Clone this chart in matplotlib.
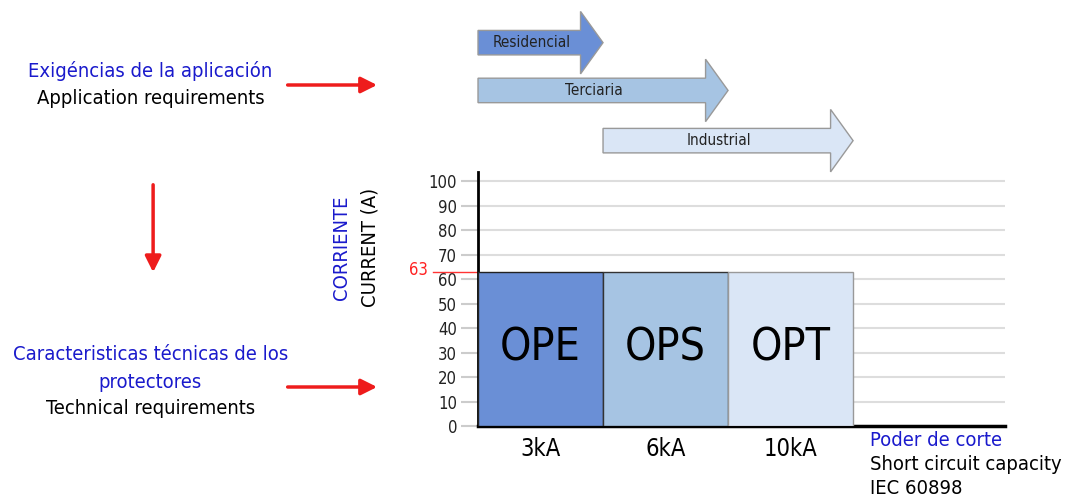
import matplotlib
matplotlib.use('Agg')
import matplotlib.pyplot as plt
from matplotlib.patches import FancyArrow, FancyArrowPatch

# data
protectores = ['OPE', 'OPS', 'OPT']
corriente = [63, 63, 63]
poder_corte = ['3kA', '6kA', '10kA']
bar_colors = ['#6a8fd6', '#a6c4e3', '#dae6f6']

aplicaciones = ['Residencial', 'Terciaria', 'Industrial']
app_start = [0, 0, 1]
app_end = [1, 2, 3]
app_colors = ['#6a8fd6', '#a6c4e3', '#dae6f6']

y_ticks = [0, 10, 20, 30, 40, 50, 60, 70, 80, 90, 100]
limite = 63

plt.rcParams['font.family'] = ['DejaVu Sans']
narrow = ['DejaVu Sans']
cond = 'condensed'
blue = '#1a1acc'

fig = plt.figure(figsize=(10.67, 5), dpi=100)
ax = fig.add_axes([0.448, 0.148, 0.494, 0.508])

x = range(len(protectores))
ax.bar(x, corriente, width=1, align='edge', color=bar_colors,
       edgecolor=['#222222', '#333333', '#999999'], linewidth=1, zorder=3)
for i, name in enumerate(protectores):
    ax.text(i + 0.5, 32, name, ha='center', va='center', fontsize=32,
            family=narrow, stretch=cond, zorder=4)

ax.set_xlim(0, 4.216)
ax.set_ylim(0, 103.7)
ax.set_yticks(y_ticks)
ax.set_yticklabels([str(v) for v in y_ticks], fontsize=12, color='#222222',
                   stretch=cond)
ax.set_xticks([i + 0.5 for i in x])
ax.set_xticklabels(poder_corte, fontsize=17, family=narrow, stretch=cond)
ax.tick_params(axis='x', length=0, pad=8)
ax.tick_params(axis='y', length=12, color='#cccccc', width=1.5, pad=3)
ax.grid(axis='y', color='#dddddd', linewidth=1.5, zorder=0)
ax.set_axisbelow(True)
for s in ['top', 'right']:
    ax.spines[s].set_visible(False)
ax.spines['left'].set_linewidth(2)
ax.spines['bottom'].set_linewidth(2.5)

# 63 A marker
ax.plot([-0.36, 0], [limite, limite], color='#ff3333', linewidth=1, clip_on=False)
ax.text(-0.4, limite + 0.6, str(limite), color='#ff2222', fontsize=12,
        ha='right', va='center', stretch=cond)

# axis titles
fig.text(0.320, 0.505, 'CORRIENTE', rotation=90, color=blue, fontsize=14.5,
         ha='center', va='center', family=narrow, stretch=cond)
fig.text(0.347, 0.505, 'CURRENT (A)', rotation=90, color='black', fontsize=14.5,
         ha='center', va='center', family=narrow, stretch=cond)

# application arrows
y_pos = [156.5, 137, 116.5]
for name, s, e, c, yy in zip(aplicaciones, app_start, app_end, app_colors, y_pos):
    arr = FancyArrow(s, yy, e - s, 0, width=10, head_width=25.5,
                     head_length=0.18, length_includes_head=True,
                     facecolor=c, edgecolor='#999999', linewidth=1,
                     clip_on=False)
    ax.add_patch(arr)
    ax.text((s + e - 0.14) / 2, yy, name, ha='center', va='center',
            fontsize=11, family=narrow, stretch=cond, color='#222222')

# left side notes
note_kw = dict(fontsize=14.5, ha='center', va='center', family=narrow,
               stretch=cond)
fig.text(0.141, 0.858, 'Exigéncias de la aplicación', color=blue, **note_kw)
fig.text(0.141, 0.804, 'Application requirements', color='black', **note_kw)
fig.text(0.141, 0.292, 'Caracteristicas técnicas de los', color=blue, **note_kw)
fig.text(0.141, 0.236, 'protectores', color=blue, **note_kw)
fig.text(0.141, 0.182, 'Technical requirements', color='black', **note_kw)

red_kw = dict(arrowstyle='-|>,head_length=0.8,head_width=0.4', color='#ee1c1c',
              lw=2.5, mutation_scale=12)
fig.patches.append(FancyArrowPatch(
    (0.267, 0.83), (0.356, 0.83), transform=fig.transFigure, **red_kw))
fig.patches.append(FancyArrowPatch(
    (0.267, 0.226), (0.356, 0.226), transform=fig.transFigure, **red_kw))
fig.patches.append(FancyArrowPatch(
    (0.1435, 0.636), (0.1435, 0.45), transform=fig.transFigure, **red_kw))

# bottom right notes
br_kw = dict(fontsize=14.5, ha='left', va='center', family=narrow, stretch=cond)
fig.text(0.815, 0.118, 'Poder de corte', color=blue, **br_kw)
fig.text(0.815, 0.070, 'Short circuit capacity', color='black', **br_kw)
fig.text(0.815, 0.024, 'IEC 60898', color='black', **br_kw)

fig.savefig('out.png', dpi=100)
